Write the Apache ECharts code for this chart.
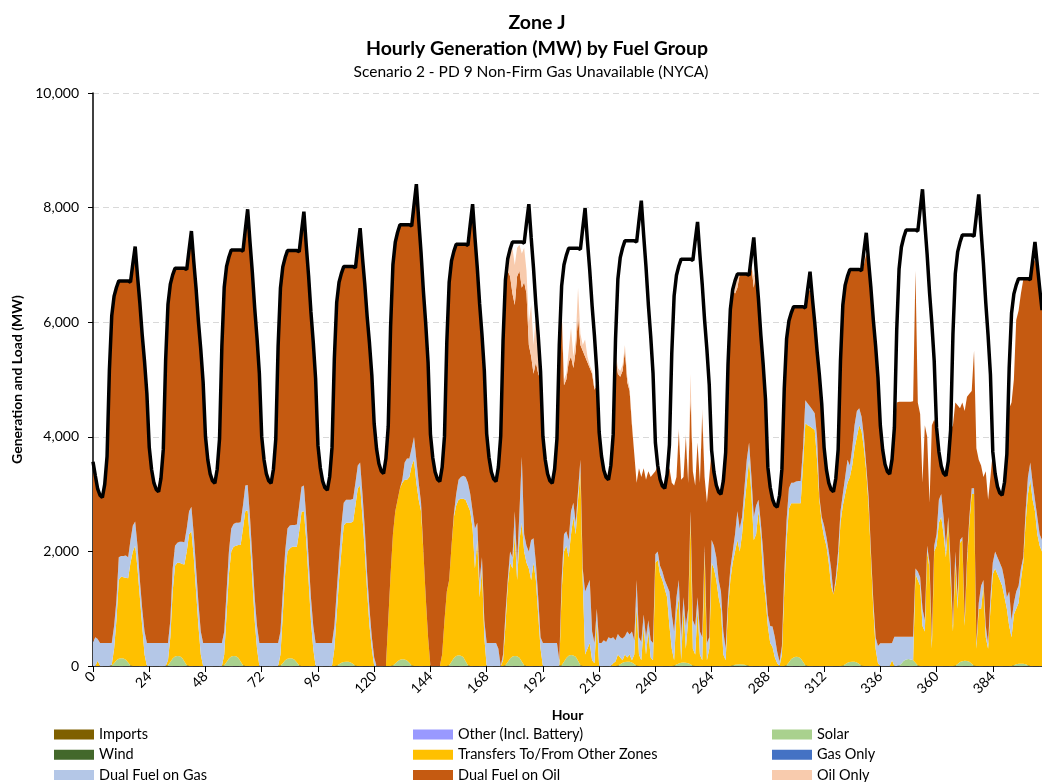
<!DOCTYPE html>
<html>
<head>
<meta charset="utf-8">
<script src="https://cdn.jsdelivr.net/npm/echarts@6.0.0/dist/echarts.min.js"></script>
<style>
html,body{margin:0;padding:0;background:#fff;}
#chart{width:1042px;height:782px;}
</style>
</head>
<body>
<div id="chart"></div>
<script>
// Hourly values (MW), hour 0 .. 405, one row per day (24 hours)
const load = [
3565,3320,3090,2980,2940,3170,3660,5170,6115,6455,6605,6720,6720,6720,6720,6720,6700,7020,7320,6805,6335,5780,5310,4750,
3820,3430,3195,3080,3040,3275,3780,5340,6315,6665,6825,6940,6940,6940,6940,6940,6920,7265,7590,7060,6580,6005,5520,4950,
4005,3597,3353,3231,3190,3434,3963,5591,6609,6975,7138,7260,7260,7260,7260,7260,7240,7615,7970,7396,6871,6249,5723,5102,
4002,3596,3352,3231,3190,3434,3961,5585,6600,6966,7128,7250,7250,7250,7250,7250,7230,7590,7930,7347,6812,6180,5646,5014,
3850,3460,3226,3109,3070,3304,3811,5371,6346,6697,6853,6970,6970,6970,6970,6970,6950,7305,7640,7126,6656,6099,5628,5072,
4228,3794,3534,3403,3360,3620,4185,5921,7006,7396,7570,7700,7700,7700,7700,7700,7680,8045,8410,7787,7216,6542,5971,5296,
4048,3634,3386,3261,3220,3468,4007,5663,6698,7070,7236,7360,7360,7360,7360,7360,7340,7710,8060,7479,6947,6318,5785,5156,
4056,3638,3387,3262,3220,3471,4014,5686,6731,7107,7275,7400,7400,7400,7400,7400,7380,7730,8060,7476,6940,6307,5771,5138,
4010,3600,3354,3231,3190,3436,3969,5609,6634,7003,7167,7290,7290,7290,7290,7290,7270,7640,7990,7421,6900,6284,5762,5146,
4084,3667,3417,3292,3250,3500,4042,5710,6753,7128,7295,7420,7420,7420,7420,7420,7400,7770,8120,7518,6965,6313,5761,5108,
3900,3500,3260,3140,3100,3340,3860,5460,6460,6820,6980,7100,7100,7100,7100,7100,7080,7425,7750,7180,6658,6040,5518,4900,
3768,3384,3154,3038,3000,3230,3730,5266,6226,6571,6725,6840,6840,6840,6840,6840,6820,7160,7480,6915,6397,5784,5266,4654,
3470,3120,2910,2805,2770,2980,3435,4835,5710,6025,6165,6270,6270,6270,6270,6270,6250,6575,6880,6419,5997,5498,5075,4576,
3816,3428,3195,3079,3040,3273,3777,5329,6299,6648,6804,6920,6920,6920,6920,6920,6900,7240,7560,7055,6592,6044,5581,5034,
4202,3776,3520,3393,3350,3606,4159,5863,6928,7312,7482,7610,7610,7610,7610,7610,7590,7965,8320,7720,7170,6520,5970,5320,
4160,3740,3488,3362,3320,3572,4118,5798,6848,7226,7394,7520,7520,7520,7520,7520,7500,7865,8230,7600,7022,6340,5763,5080,
3736,3358,3131,3018,2980,3207,3698,5210,6155,6495,6647,6760,6760,6760,6760,6760,6740,7070,7400,7000,6600,6210
];

// Hour categories 0 .. 405 (one per load value)
const hours = load.map((_, i) => String(i));

// Fuel groups with no output in this period (legend only)
const imports = [];
const other = [];
const wind = [];
const gasOnly = [];

const solar = [
0,0,0,0,0,0,0,0,10,50,100,125,134,130,110,60,10,0,0,0,0,0,0,0,
0,0,0,0,0,0,0,0,15,70,130,165,175,170,145,80,15,0,0,0,0,0,0,0,
0,0,0,0,0,0,0,0,15,70,130,165,175,170,145,80,15,0,0,0,0,0,0,0,
0,0,0,0,0,0,0,0,10,50,100,125,134,130,110,60,10,0,0,0,0,0,0,0,
0,0,0,0,0,0,0,0,5,30,55,70,75,72,60,35,5,0,0,0,0,0,0,0,
0,0,0,0,0,0,0,0,10,45,85,110,116,112,95,55,10,0,0,0,0,0,0,0,
0,0,0,0,0,0,0,0,15,75,140,175,186,180,155,85,15,0,0,0,0,0,0,0,
0,0,0,0,0,0,0,0,15,70,130,165,175,170,145,80,15,0,0,0,0,0,0,0,
0,0,0,0,0,0,0,0,15,75,140,180,190,185,160,90,15,0,0,0,0,0,0,0,
0,0,0,0,0,0,0,0,5,30,55,70,75,72,60,35,5,0,0,0,0,0,0,0,
0,0,0,0,0,0,0,0,5,25,45,55,60,58,50,30,5,0,0,0,0,0,0,0,
0,0,0,0,0,0,0,0,0,10,20,28,30,28,22,12,0,0,0,0,0,0,0,0,
0,0,0,0,0,0,0,0,15,65,120,150,160,155,135,75,15,0,0,0,0,0,0,0,
0,0,0,0,0,0,0,0,5,30,55,70,75,72,60,35,5,0,0,0,0,0,0,0,
0,0,0,0,0,0,0,0,10,45,90,115,120,115,100,55,10,0,0,0,0,0,0,0,
0,0,0,0,0,0,0,0,5,35,70,85,90,87,75,40,5,0,0,0,0,0,0,0,
0,0,0,0,0,0,0,0,0,15,30,38,40,38,30,15,0,0,0,0,0,0
];

const transfers = [
0,0,90,0,0,0,0,0,10,250,700,1375,1426,1420,1430,1470,1790,2000,2100,1700,1200,700,200,0,
0,0,0,0,0,0,0,0,85,430,1170,1585,1625,1630,1635,1690,1985,2300,2350,1900,1300,700,200,0,
0,0,0,0,0,0,0,0,185,830,1470,1835,1905,1930,1965,2030,2385,2700,2720,2200,1500,800,300,0,
0,0,0,0,0,0,0,0,190,850,1500,1875,1916,1950,1970,2020,2340,2690,2700,2200,1500,800,300,0,
0,0,0,0,0,0,0,300,895,1470,1945,2380,2425,2428,2440,2485,2795,3100,3150,2600,2000,1300,700,300,
0,0,0,0,0,0,800,1600,2290,2655,2815,2990,3084,3138,3155,3245,3490,3600,3200,2900,2700,2000,1200,500,
0,0,0,0,0,200,800,1300,1485,2025,2460,2625,2714,2740,2765,2815,2785,2700,2400,1700,2200,1200,1700,500,
0,0,0,0,0,0,0,100,685,1330,1670,1535,2125,1330,2055,2420,1985,1800,1700,1500,1800,1500,900,300,
0,0,0,0,0,0,0,0,1285,1925,1960,1720,2110,2415,2140,2810,3385,1500,200,300,400,100,50,800,
0,0,0,0,0,0,50,80,195,120,45,130,75,128,40,165,1035,200,100,700,200,600,150,100,
1800,1850,1600,1500,1350,1200,700,300,95,875,1155,45,940,242,750,2570,295,200,1000,200,100,2000,100,300,
1800,1700,1500,1200,1000,200,100,1000,1500,1790,1980,2172,1970,2272,2778,3188,3600,3000,2200,2300,2700,2300,1500,1200,
700,400,330,150,50,0,200,1300,2185,2685,2720,2690,2680,2685,2705,3425,4220,4200,4180,4150,4120,3600,2900,2490,
2250,2100,1800,1400,1250,1450,1800,2500,2795,2970,3145,3230,3425,3728,3940,4165,4095,3800,3400,2800,1900,1000,300,50,
0,0,0,0,0,100,0,0,0,0,0,0,0,0,0,1545,1490,1400,700,600,2000,1700,300,2000,
2100,2500,2600,2300,1900,2550,1500,600,1795,965,2080,2115,610,1713,2425,2960,2995,300,1000,1000,1400,500,300,1000,
1600,1700,1600,1500,1400,1200,1000,700,500,885,970,1062,1460,1762,2470,2985,3250,2900,2700,2300,2100,2000
];

const dualFuelGas = [
420,500,380,400,400,400,400,400,380,400,350,400,360,370,390,370,400,450,420,400,300,300,400,400,
400,400,400,400,400,400,400,400,300,300,400,350,350,370,390,390,400,400,430,400,400,400,400,400,
400,400,400,400,400,400,400,400,400,400,400,400,400,400,390,400,400,450,440,400,400,400,400,400,
400,400,400,400,400,400,400,400,400,400,400,400,400,380,380,390,450,440,450,400,400,400,400,400,
400,400,400,400,400,400,400,400,400,400,450,400,400,400,400,400,400,400,400,400,400,300,300,200,
150,0,0,0,0,0,0,0,0,0,0,0,50,300,370,320,300,400,400,300,150,0,0,0,
0,0,0,0,0,0,0,0,0,0,50,200,350,380,400,400,400,300,300,700,300,300,200,300,
400,400,400,400,400,300,0,100,200,100,200,200,400,300,500,1150,300,300,300,700,430,300,300,200,
400,400,400,400,400,400,400,100,200,300,250,300,400,250,200,150,200,200,1100,1100,1100,500,350,200,
400,400,450,420,500,480,450,370,360,350,380,320,450,350,500,250,460,300,320,200,300,200,300,300,
150,150,150,150,150,200,600,600,500,300,300,400,200,400,200,100,500,500,200,400,400,100,300,200,
400,400,400,300,300,400,200,200,200,200,300,500,400,300,300,400,300,300,400,500,200,200,500,200,
200,300,360,350,200,80,150,300,350,350,360,360,380,390,390,300,405,380,350,320,290,400,50,110,
200,150,200,300,0,100,200,200,200,300,400,200,300,400,450,300,250,200,100,150,100,150,200,300,
395,395,395,395,395,300,510,510,500,465,420,395,390,395,410,100,150,150,300,200,100,100,150,100,
200,400,400,300,200,50,300,100,200,200,50,50,100,100,100,100,100,100,100,400,100,200,100,200,
200,300,300,300,300,300,200,600,300,200,300,300,200,100,200,300,300,300,200,300,200,200
];

const dualFuelOil = [
3145,2820,2620,2580,2540,2770,3260,4770,5715,5755,5455,4820,4800,4800,4790,4820,4500,4570,4800,4705,4835,4780,4710,4350,
3420,3030,2795,2680,2640,2875,3380,4940,5915,5865,5125,4840,4790,4770,4770,4780,4520,4565,4810,4760,4880,4905,4920,4550,
3605,3197,2953,2831,2790,3034,3563,5191,6009,5675,5138,4860,4780,4760,4760,4750,4440,4465,4810,4796,4971,5049,5023,4702,
3602,3196,2952,2831,2790,3034,3561,5185,6000,5666,5128,4850,4800,4790,4790,4780,4430,4460,4780,4747,4912,4980,4946,4614,
3450,3060,2826,2709,2670,2904,3411,4671,5046,4797,4403,4120,4070,4070,4070,4050,3750,3805,4090,4126,4256,4499,4628,4572,
4078,3794,3534,3403,3360,3620,3385,4321,4706,4696,4670,4600,4450,4150,4080,4080,3880,4045,4810,4587,4366,4542,4771,4796,
4048,3634,3386,3261,3220,3268,3207,4363,5198,4970,4586,4360,4110,4060,4040,4060,4140,4610,5210,5079,4447,4818,3885,4356,
3656,3238,2987,2862,2820,3171,4014,5486,5831,5400,4800,4600,3600,5000,4200,2950,4400,4400,3600,3200,2870,3500,3900,4500,
3610,3200,2954,2831,2790,3036,3569,5509,4700,2600,2650,3100,2700,2350,3000,3050,2000,3800,4100,3900,3700,4500,4420,3900,
3684,3267,2967,2872,2750,3020,3542,4950,4540,4550,4670,4980,4350,4250,3600,3250,1700,2950,2880,2550,2750,2600,2850,2950,
1450,1500,1510,1490,1600,1940,2150,2300,2550,2100,2600,2750,2100,3300,2200,2000,2600,2450,2700,2600,3900,1200,2450,2800,
1568,1284,1254,1538,1700,2630,3430,4066,4526,4571,4200,3900,4440,4240,3740,3240,2920,3670,4000,4115,3497,3284,3266,3254,
2570,2420,2220,2305,2520,2900,3085,3235,3160,2925,2965,3070,3050,3040,3040,2470,1610,1995,2020,1949,1587,1498,2125,1976,
1366,1178,1195,1379,1790,1723,1777,2629,3299,3348,3204,3420,3120,2720,2470,2420,2550,3000,3700,4105,4592,4894,5081,4684,
3807,3381,3125,2998,2955,3206,3649,4090,4100,4100,4100,4100,4100,4100,4110,5200,2950,2850,2200,3400,1900,1050,3750,2200,
1860,840,488,762,1220,972,2318,3500,2600,3350,2300,2350,3650,2800,2150,1700,2400,3400,2500,2100,1800,2700,2500,2100,
1936,1358,1231,1218,1280,1707,2498,3200,3800,3900,4740,4800,4800,4840,4060,3460,3190,3800,4200,4300,4300,4010
];

const oilOnly = [
0,0,0,0,0,0,0,0,0,0,0,0,0,0,0,0,0,0,0,0,0,0,0,0,
0,0,0,0,0,0,0,0,0,0,0,0,0,0,0,0,0,0,0,0,0,0,0,0,
0,0,0,0,0,0,0,0,0,0,0,0,0,0,0,0,0,0,0,0,0,0,0,0,
0,0,0,0,0,0,0,0,0,0,0,0,0,0,0,0,0,0,0,0,0,0,0,0,
0,0,0,0,0,0,0,0,0,0,0,0,0,0,0,0,0,0,0,0,0,0,0,0,
0,0,0,0,0,0,0,0,0,0,0,0,0,0,0,0,0,0,0,0,0,0,0,0,
0,0,0,0,0,0,0,0,0,0,0,0,0,0,0,0,0,100,150,0,0,0,0,0,
0,0,0,0,0,0,0,0,0,200,400,800,700,500,450,600,600,400,400,900,500,800,500,100,
0,0,0,0,0,0,0,0,100,100,100,200,500,200,200,500,200,100,300,100,50,50,30,50,
0,0,0,0,0,0,0,100,100,100,100,100,100,50,50,0,0,0,0,0,0,0,0,0,
0,0,0,0,0,0,0,0,0,0,50,0,0,50,0,400,0,0,0,0,100,0,0,0,
0,0,0,0,0,0,0,0,0,0,200,240,0,0,0,0,0,0,200,0,0,0,0,0,
0,0,0,0,0,0,0,0,0,0,0,0,0,0,0,0,0,0,0,0,0,0,0,0,
0,0,0,0,0,0,0,0,0,0,0,0,0,0,0,0,0,0,0,0,0,0,0,0,
0,0,0,0,0,0,0,0,0,0,0,0,0,0,0,0,0,0,0,0,0,0,0,0,
0,0,0,0,0,0,0,0,0,0,0,0,0,0,0,0,0,0,0,0,0,0,0,0,
0,0,0,0,0,0,0,0,0,0,0,0,0,0,0,0,0,0,0,0,0,0
];

const seriesNames = ['Imports','Other (Incl. Battery)','Solar','Wind','Transfers To/From Other Zones','Gas Only','Dual Fuel on Gas','Dual Fuel on Oil','Oil Only'];
const seriesColors = ['#7f6000','#9999ff','#a9d18e','#43682b','#ffc000','#4472c4','#b4c7e7','#c55a11','#f8cbad'];
const seriesData = [imports, other, solar, wind, transfers, gasOnly, dualFuelGas, dualFuelOil, oilOnly];

const FONT = 'Lato, "Liberation Sans", Arial, sans-serif';

const chart = echarts.init(document.getElementById('chart'), null, {renderer: 'canvas'});

const areaSeries = seriesNames.map((name, k) => {
  const s = {
    name: name,
    type: 'line',
    data: seriesData[k],
    symbol: 'none',
    showSymbol: false,
    lineStyle: {width: 0},
    itemStyle: {color: seriesColors[k]},
    areaStyle: {color: seriesColors[k], opacity: 1},
    emphasis: {disabled: true},
    silent: true,
    z: 2
  };
  if (seriesData[k].length) { s.stack = 'gen'; }
  return s;
});

const loadSeries = {
  name: 'Load',
  type: 'line',
  data: load,
  symbol: 'none',
  showSymbol: false,
  lineStyle: {color: '#000', width: 3.5},
  itemStyle: {color: '#000'},
  emphasis: {disabled: true},
  silent: true,
  z: 5
};

function legendCol(items, left) {
  return {
    data: items,
    orient: 'vertical',
    left: left,
    top: 727,
    height: 80,
    padding: 0,
    itemGap: 5.3,
    itemWidth: 40,
    itemHeight: 10,
    icon: 'rect',
    selectedMode: false,
    textStyle: {fontSize: 14.5, color: '#000', fontFamily: FONT}
  };
}

const option = {
  animation: false,
  backgroundColor: '#fff',
  textStyle: {fontFamily: FONT},
  title: [
    {text: 'Zone J', left: 537, top: 12.5, textAlign: 'center', textVerticalAlign: 'top', padding: 0,
     textStyle: {fontSize: 19.5, fontWeight: 'bold', color: '#000', fontFamily: FONT}},
    {text: 'Hourly Generation (MW) by Fuel Group', left: 537, top: 39, textAlign: 'center', textVerticalAlign: 'top', padding: 0,
     textStyle: {fontSize: 19.5, fontWeight: 'bold', color: '#000', fontFamily: FONT}},
    {text: 'Scenario 2 - PD 9 Non-Firm Gas Unavailable (NYCA)', left: 531, top: 63.5, textAlign: 'center', textVerticalAlign: 'top', padding: 0,
     textStyle: {fontSize: 15.5, fontWeight: 'normal', color: '#000', fontFamily: FONT}}
  ],
  legend: [
    legendCol(['Imports','Wind','Dual Fuel on Gas'], 54),
    legendCol(['Other (Incl. Battery)','Transfers To/From Other Zones','Dual Fuel on Oil'], 413),
    legendCol(['Solar','Gas Only','Oil Only'], 772)
  ],
  grid: {left: 93, right: 0, top: 93, bottom: 116, containLabel: false},
  xAxis: {
    type: 'category', data: hours, boundaryGap: false,
    name: 'Hour', nameLocation: 'middle', nameGap: 42,
    nameTextStyle: {fontSize: 14, fontWeight: 'bold', color: '#000', fontFamily: FONT},
    axisLine: {show: true, onZero: false, lineStyle: {color: '#000', width: 1.5}},
    axisTick: {show: true, interval: 23, length: 6, lineStyle: {color: '#000', width: 1}},
    axisLabel: {interval: 23, rotate: 45, fontSize: 14, color: '#000', margin: 8, fontFamily: FONT},
    splitLine: {show: false}
  },
  yAxis: {
    type: 'value', min: 0, max: 10000, interval: 2000,
    name: 'Generation and Load (MW)', nameLocation: 'middle', nameGap: 68, nameRotate: 90,
    nameTextStyle: {fontSize: 14, fontWeight: 'bold', color: '#000', fontFamily: FONT},
    axisLine: {show: true, lineStyle: {color: '#000', width: 1.5}},
    axisTick: {show: true, length: 5, lineStyle: {color: '#000', width: 1}},
    axisLabel: {fontSize: 14, color: '#000', margin: 14, fontFamily: FONT,
      formatter: v => v.toLocaleString('en-US')},
    splitLine: {show: true, lineStyle: {color: '#d9d9d9', width: 1, type: [6, 4]}}
  },
  series: areaSeries.concat([loadSeries])
};

chart.setOption(option);
</script>
</body>
</html>
